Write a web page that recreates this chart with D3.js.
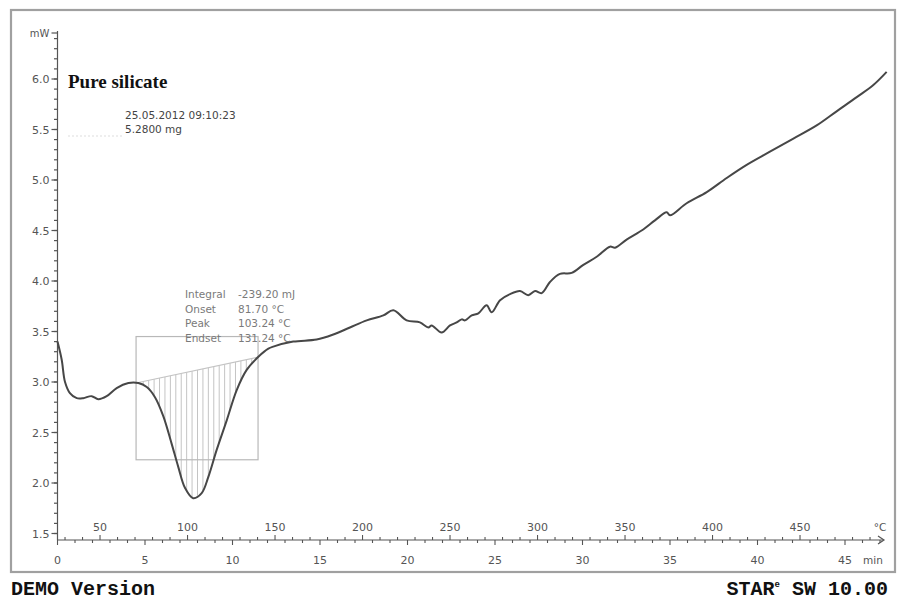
<!DOCTYPE html>
<html>
<head>
<meta charset="utf-8">
<script src="https://cdn.jsdelivr.net/npm/d3@7"></script>
<style>
  html, body { margin: 0; padding: 0; background: #fff; }
  svg { display: block; }
</style>
</head>
<body>
<svg id="chart" width="898" height="601"></svg>
<script>
// DSC heat-flow measurement: time in minutes, heat flow in mW
const time = [0, 0.24, 0.43, 0.71, 1.1, 1.47, 1.95, 2.33, 2.81, 3.38, 4.05, 4.62, 5.1, 5.57,
  6.05, 6.52, 6.9, 7.29, 7.75, 8.24, 8.62, 9.1, 9.67, 10.24, 10.81, 11.48, 12.05, 12.33,
  13.47, 14.81, 15.76, 16.71, 17.67, 18.62, 19.19, 19.95, 20.71, 21.19, 21.38, 21.95,
  22.43, 22.81, 23.1, 23.29, 23.67, 24.05, 24.52, 24.81, 25.29, 25.86, 26.43, 26.9,
  27.29, 27.67, 28.14, 28.71, 29.38, 30.05, 30.81, 31.57, 31.86, 32.52, 33.47, 34.14,
  34.81, 35.0, 35.95, 37.1, 38.24, 39.38, 40.71, 42.05, 43.38, 44.52, 45.67, 46.62, 47.38];
const heatFlow = [3.40, 3.22, 3.00, 2.89, 2.84, 2.84, 2.86, 2.83, 2.86, 2.94, 2.99, 2.99, 2.95, 2.85,
  2.66, 2.39, 2.16, 1.95, 1.85, 1.90, 2.06, 2.33, 2.62, 2.92, 3.12, 3.25, 3.33, 3.35,
  3.40, 3.42, 3.47, 3.54, 3.61, 3.66, 3.71, 3.61, 3.59, 3.54, 3.56, 3.49,
  3.56, 3.59, 3.62, 3.61, 3.66, 3.68, 3.76, 3.69, 3.81, 3.87, 3.90, 3.86,
  3.90, 3.88, 3.99, 4.07, 4.08, 4.16, 4.24, 4.34, 4.33, 4.41, 4.51, 4.60,
  4.68, 4.65, 4.77, 4.88, 5.02, 5.15, 5.28, 5.41, 5.54, 5.68, 5.82, 5.94, 6.07];

// Axis ticks
const heatFlowTicks = [1.5, 2.0, 2.5, 3.0, 3.5, 4.0, 4.5, 5.0, 5.5, 6.0];
const timeTicks = [0, 5, 10, 15, 20, 25, 30, 35, 40, 45];
const tempTicks = [50, 100, 150, 200, 250, 300, 350, 400, 450];

// Heating program
const startTemp = 25.7;   // °C
const heatingRate = 10;   // K/min

// Peak evaluation
const integrationLimits = [4.49, 11.46];   // min
const evalWindow = [2.23, 3.45];           // mW
const evalNames = ["Integral", "Onset", "Peak", "Endset"];
const evalValues = ["-239.20 mJ", "81.70 °C", "103.24 °C", "131.24 °C"];

const sampleName = "Pure silicate";
const sampleInfo = ["25.05.2012 09:10:23", "5.2800 mg"];

const svg = d3.select("#chart");
const tickFont = "'DejaVu Sans', Verdana, sans-serif";

const x = d3.scaleLinear().domain([0, 45]).range([57.5, 845]);
const y = d3.scaleLinear().domain([1.5, 6.0]).range([533.5, 79]);
const tempToTime = T => (T - startTemp) / heatingRate;

const axisY = 540;     // pixel row of the time/temperature axis
const axisX = x(0);

// frame
svg.append("rect")
  .attr("x", 11).attr("y", 10).attr("width", 884).attr("height", 562)
  .attr("fill", "none").attr("stroke", "#a0a0a0").attr("stroke-width", 2.2);

// ---- Y axis ----
const gy = svg.append("g");
gy.append("line").attr("x1", axisX).attr("x2", axisX).attr("y1", axisY).attr("y2", 31)
  .attr("stroke", "#555").attr("stroke-width", 1.2);
const minorY = d3.range(15, 65).map(d => d / 10);
gy.selectAll("line.minor").data(minorY).join("line")
  .attr("class", "minor")
  .attr("x1", axisX - 3.5).attr("x2", axisX)
  .attr("y1", d => y(d)).attr("y2", d => y(d))
  .attr("stroke", "#555").attr("stroke-width", 1.2);
gy.selectAll("line.major").data(heatFlowTicks).join("line")
  .attr("class", "major")
  .attr("x1", axisX - 6).attr("x2", axisX)
  .attr("y1", d => y(d)).attr("y2", d => y(d))
  .attr("stroke", "#555").attr("stroke-width", 1.2);
gy.selectAll("text").data(heatFlowTicks).join("text")
  .attr("x", axisX - 8).attr("y", d => y(d) + 4)
  .attr("text-anchor", "end")
  .attr("font-family", tickFont).attr("font-size", 11).attr("fill", "#555")
  .text(d => d.toFixed(1));
gy.append("line").attr("x1", axisX - 6).attr("x2", axisX).attr("y1", 33).attr("y2", 33)
  .attr("stroke", "#555").attr("stroke-width", 1.2);
gy.append("text").attr("x", axisX - 8).attr("y", 37).attr("text-anchor", "end")
  .attr("font-family", tickFont).attr("font-size", 10).attr("fill", "#555").text("mW");

// ---- X axis (time below, temperature above) ----
const gx = svg.append("g");
gx.append("line").attr("x1", axisX).attr("x2", 883).attr("y1", axisY).attr("y2", axisY)
  .attr("stroke", "#555").attr("stroke-width", 1.2);
gx.append("path")
  .attr("d", `M878,536 L884,540 L878,544`)
  .attr("fill", "none").attr("stroke", "#555").attr("stroke-width", 1.2);

const minuteTicks = d3.range(0, 48);
gx.selectAll("line.tmin").data(minuteTicks).join("line")
  .attr("class", "tmin")
  .attr("x1", d => x(d)).attr("x2", d => x(d))
  .attr("y1", axisY).attr("y2", d => axisY + (d % 5 === 0 ? 5 : 3))
  .attr("stroke", "#555").attr("stroke-width", 1.1);
const degreeTicks = d3.range(30, 500, 10);
gx.selectAll("line.tdeg").data(degreeTicks).join("line")
  .attr("class", "tdeg")
  .attr("x1", d => x(tempToTime(d))).attr("x2", d => x(tempToTime(d)))
  .attr("y1", axisY).attr("y2", d => axisY - (d % 50 === 0 ? 5 : 3))
  .attr("stroke", "#555").attr("stroke-width", 1.1);

gx.selectAll("text.lmin").data(timeTicks).join("text")
  .attr("class", "lmin")
  .attr("x", d => x(d)).attr("y", 564)
  .attr("text-anchor", "middle")
  .attr("font-family", tickFont).attr("font-size", 11).attr("fill", "#555")
  .text(d => d);
gx.selectAll("text.ldeg").data(tempTicks).join("text")
  .attr("class", "ldeg")
  .attr("x", d => x(tempToTime(d))).attr("y", 531)
  .attr("text-anchor", "middle")
  .attr("font-family", tickFont).attr("font-size", 11).attr("fill", "#555")
  .text(d => d);
gx.append("text").attr("x", 873).attr("y", 564).attr("text-anchor", "middle")
  .attr("font-family", tickFont).attr("font-size", 10.5).attr("fill", "#555").text("min");
gx.append("text").attr("x", 880).attr("y", 531).attr("text-anchor", "middle")
  .attr("font-family", tickFont).attr("font-size", 10.5).attr("fill", "#555").text("°C");

// ---- Peak evaluation: window, baseline and hatched area ----
const pts = time.map((t, i) => ({ t, v: heatFlow[i] }));
const bisect = d3.bisector(d => d.t).left;
function curveAt(t) {
  const i = Math.max(1, Math.min(pts.length - 1, bisect(pts, t)));
  const a = pts[i - 1], b = pts[i];
  return a.v + (b.v - a.v) * (t - a.t) / (b.t - a.t);
}
const [t0, t1] = integrationLimits;
const v0 = curveAt(t0), v1 = curveAt(t1);
const baseAt = t => v0 + (v1 - v0) * (t - t0) / (t1 - t0);

const ev = svg.append("g");
const hatchT = d3.range(t0 + 0.1, t1, 0.31);
ev.selectAll("line.hatch").data(hatchT).join("line")
  .attr("class", "hatch")
  .attr("x1", d => x(d)).attr("x2", d => x(d))
  .attr("y1", d => y(baseAt(d))).attr("y2", d => y(curveAt(d)))
  .attr("stroke", "#c4c4c4").attr("stroke-width", 1);
ev.append("line")
  .attr("x1", x(t0)).attr("y1", y(v0)).attr("x2", x(t1)).attr("y2", y(v1))
  .attr("stroke", "#c4c4c4").attr("stroke-width", 1.2);
ev.append("rect")
  .attr("x", x(t0)).attr("y", y(evalWindow[1]))
  .attr("width", x(t1) - x(t0)).attr("height", y(evalWindow[0]) - y(evalWindow[1]))
  .attr("fill", "none").attr("stroke", "#b8b8b8").attr("stroke-width", 1.2);

// evaluation results
const res = svg.append("g").attr("font-family", tickFont).attr("font-size", 10.5).attr("fill", "#7a7a7a");
res.selectAll("text.n").data(evalNames).join("text")
  .attr("class", "n").attr("x", 185).attr("y", (d, i) => 298 + i * 14.5).text(d => d);
res.selectAll("text.v").data(evalValues).join("text")
  .attr("class", "v").attr("x", 238).attr("y", (d, i) => 298 + i * 14.5)
  .attr("xml:space", "preserve").text(d => d);

// ---- measured curve ----
const line = d3.line().x(d => x(d.t)).y(d => y(d.v)).curve(d3.curveCatmullRom.alpha(0.5));
svg.append("path").datum(pts)
  .attr("d", line)
  .attr("fill", "none").attr("stroke", "#474747").attr("stroke-width", 2)
  .attr("stroke-linejoin", "round");

// ---- sample labels ----
svg.append("text").attr("x", 68).attr("y", 88)
  .attr("font-family", "'Liberation Serif', 'Times New Roman', serif")
  .attr("font-weight", "bold").attr("font-size", 19).attr("fill", "#111")
  .text(sampleName);
svg.selectAll("text.info").data(sampleInfo).join("text")
  .attr("class", "info").attr("x", 125).attr("y", (d, i) => 119 + i * 13.5)
  .attr("font-family", tickFont).attr("font-size", 10.5).attr("fill", "#444")
  .text(d => d);
svg.append("line").attr("x1", 68).attr("x2", 124).attr("y1", 136).attr("y2", 136)
  .attr("stroke", "#ddd").attr("stroke-width", 1).attr("stroke-dasharray", "2,2");

// ---- footer ----
const mono = "'Liberation Mono', 'DejaVu Sans Mono', monospace";
svg.append("text").attr("x", 11).attr("y", 595)
  .attr("font-family", mono).attr("font-weight", "bold").attr("font-size", 20).attr("fill", "#111")
  .text("DEMO Version");
const star = svg.append("text").attr("x", 888).attr("y", 595).attr("text-anchor", "end")
  .attr("font-family", mono).attr("font-weight", "bold").attr("font-size", 20).attr("fill", "#111");
star.append("tspan").text("STAR");
star.append("tspan").attr("font-size", 9).attr("dy", -8).text("e");
star.append("tspan").attr("dy", 8).attr("xml:space", "preserve").text(" SW 10.00");
</script>
</body>
</html>
